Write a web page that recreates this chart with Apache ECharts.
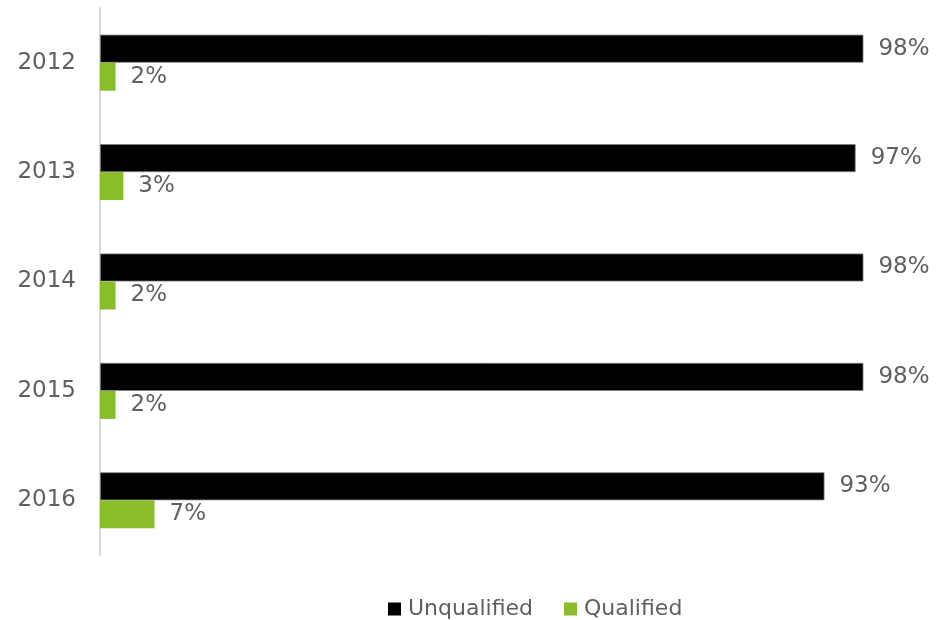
<!DOCTYPE html>
<html><head><meta charset="utf-8">
<script src="https://cdn.jsdelivr.net/npm/echarts@6/dist/echarts.min.js"></script>
<style>html,body{margin:0;padding:0;background:#fff}#c{width:941px;height:620px}</style>
</head><body><div id="c"></div>
<script>
var categories = ['2012', '2013', '2014', '2015', '2016'];
var unqualified = [98, 97, 98, 98, 93];
var qualified = [2, 3, 2, 2, 7];

var chart = echarts.init(document.getElementById('c'), null, {renderer: 'canvas'});
var font = '"DejaVu Sans", sans-serif';
var lbl = {show: true, position: 'right', distance: 15, formatter: '{c}%', color: '#5f5f5f', fontSize: 23, fontFamily: font};
chart.setOption({
  animation: false,
  grid: {left: 100, right: 62, top: 8, bottom: 65, containLabel: false},
  legend: {
    top: 593, left: 383, itemWidth: 13, itemHeight: 13, itemGap: 31,
    textStyle: {color: '#5f5f5f', fontSize: 22, fontFamily: font, padding: [0, 0, 0, 2]},
    data: [
      {name: 'Unqualified', icon: 'rect', itemStyle: {borderWidth: 0}},
      {name: 'Qualified', icon: 'rect', itemStyle: {borderWidth: 0}}
    ]
  },
  xAxis: {type: 'value', min: 0, max: 100, show: false},
  yAxis: {
    type: 'category', data: categories, inverse: true,
    axisLine: {show: true, lineStyle: {color: '#d9d9d9', width: 2}},
    axisTick: {show: false},
    axisLabel: {color: '#5f5f5f', fontSize: 23, fontFamily: font, margin: 24, padding: [4, 0, 0, 0]},
    splitLine: {show: false}
  },
  series: [
    {name: 'Unqualified', type: 'bar', data: unqualified, barWidth: 28, barGap: '0%',
     itemStyle: {color: '#000000', borderColor: '#7f7f7f', borderWidth: 0.8}, label: lbl},
    {name: 'Qualified', type: 'bar', data: qualified, barWidth: 28,
     itemStyle: {color: '#8abd2a'}, label: lbl}
  ]
});
</script></body></html>
